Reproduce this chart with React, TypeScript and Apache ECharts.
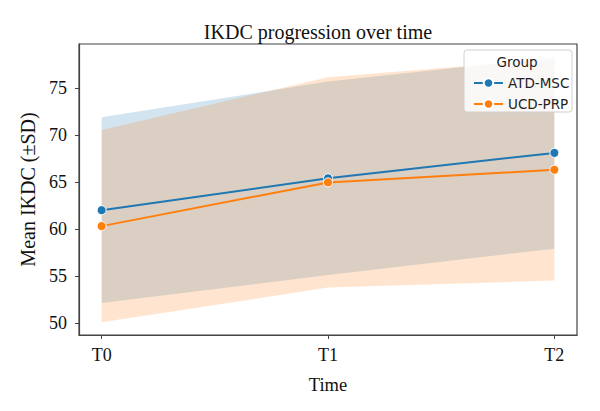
import React, { useEffect, useRef } from "react";
import * as echarts from "echarts";

const timePoints = ["T0", "T1", "T2"];
const groups = ["ATD-MSC", "UCD-PRP"];
const atdMean = [62.0, 65.4, 68.1];
const atdSd = [9.9, 10.3, 10.2];
const ucdMean = [60.3, 64.95, 66.3];
const ucdSd = [10.25, 11.2, 11.8];
const yTicks = [50, 55, 60, 65, 70, 75];
const colors = ["#1f77b4", "#ff7f0e"];

const SERIF = "Liberation Serif";
const SANS = "DejaVu Sans";

export default function App() {
  const ref = useRef<HTMLDivElement>(null);
  useEffect(() => {
    if (!ref.current) return;
    const chart = echarts.init(ref.current, undefined, { renderer: "svg" });
    const means = [atdMean, ucdMean];
    const sds = [atdSd, ucdSd];
    const series: any[] = [];
    groups.forEach((g, gi) => {
      const rows = means[gi].map((m, i) => [i, m - sds[gi][i], m + sds[gi][i]]);
      series.push({
        name: g + " ±SD",
        type: "custom",
        data: rows,
        encode: { x: 0, y: [1, 2] },
        silent: true,
        z: 1 + gi,
        renderItem: (params: any, api: any) => {
          if (params.dataIndex !== 0) return null;
          const upper = rows.map((r) => api.coord([r[0], r[2]]));
          const lower = rows.map((r) => api.coord([r[0], r[1]])).reverse();
          return {
            type: "polygon",
            shape: { points: upper.concat(lower) },
            style: { fill: colors[gi], opacity: 0.2 },
          };
        },
      });
    });
    groups.forEach((g, gi) => {
      series.push({
        name: g,
        type: "line",
        data: means[gi].map((m, i) => [i, m]),
        symbol: "circle",
        symbolSize: 9,
        itemStyle: { color: colors[gi], borderColor: "#fff", borderWidth: 1 },
        lineStyle: { color: colors[gi], width: 2 },
        z: 5,
      });
    });
    chart.setOption({
      animation: false,
      title: {
        text: "IKDC progression over time",
        left: 313,
        textAlign: "center",
        top: 17,
        textStyle: { fontFamily: SERIF, fontSize: 20, fontWeight: "normal", color: "#111" },
      },
      grid: { left: 79, right: 23, top: 44, bottom: 76, show: true, borderColor: "#444", borderWidth: 1.2 },
      legend: {
        data: groups,
        orient: "vertical",
        left: 468,
        top: 71,
        itemWidth: 29,
        itemHeight: 12,
        itemGap: 7,
        textStyle: { fontFamily: SANS, fontSize: 13.5, color: "#222" },
        z: 20,
      },
      graphic: [
        {
          type: "rect",
          shape: { x: 464, y: 50, width: 108, height: 62, r: 3 },
          style: { fill: "rgba(255,255,255,0.85)", stroke: "#d0d0d0", lineWidth: 1 },
          z: 15,
        },
        {
          type: "text",
          x: 517,
          y: 62,
          style: { text: "Group", fontFamily: SANS, fontSize: 13.5, fill: "#222", align: "center", verticalAlign: "middle" },
          z: 16,
        },
      ],
      xAxis: {
        type: "value",
        min: -0.1,
        max: 2.1,
        name: "Time",
        nameLocation: "middle",
        nameGap: 40,
        nameTextStyle: { fontFamily: SERIF, fontSize: 18.5, color: "#111" },
        axisLine: { show: true, onZero: false, lineStyle: { color: "#444", width: 1.2 } },
        axisTick: { show: true, inside: false, length: 4, customValues: [0, 1, 2], lineStyle: { color: "#444" } },
        axisLabel: {
          customValues: [0, 1, 2],
          formatter: (v: number) => timePoints[Math.round(v)] ?? "",
          fontFamily: SERIF,
          fontSize: 18,
          color: "#111",
          margin: 11,
        },
        splitLine: { show: false },
      },
      yAxis: {
        type: "value",
        min: 48.7,
        max: 79.7,
        name: "Mean IKDC (±SD)",
        nameLocation: "middle",
        nameGap: 37,
        nameTextStyle: { fontFamily: SERIF, fontSize: 20, color: "#111" },
        axisLine: { show: true, onZero: false, lineStyle: { color: "#444", width: 1.2 } },
        axisTick: { show: true, length: 4, customValues: yTicks, lineStyle: { color: "#444" } },
        axisLabel: {
          customValues: yTicks,
          fontFamily: SERIF,
          fontSize: 18,
          color: "#111",
          margin: 12,
        },
        splitLine: { show: false },
      },
      series,
    });
    return () => chart.dispose();
  }, []);
  return <div ref={ref} style={{ width: 600, height: 411, margin: -8 }} />;
}
